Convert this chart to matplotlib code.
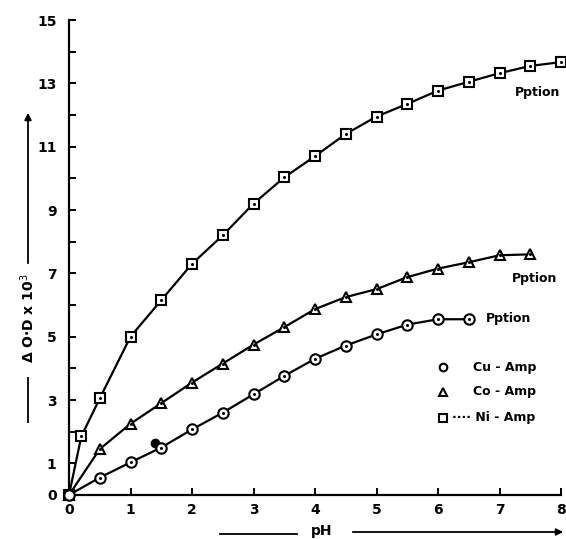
import matplotlib
matplotlib.use("Agg")
import matplotlib.pyplot as plt

# pH values and Delta O.D x 10^3
ph_ni = [0, 0.2, 0.5, 1.0, 1.5, 2.0, 2.5, 3.0, 3.5, 4.0, 4.5, 5.0, 5.5, 6.0, 6.5, 7.0, 7.5, 8.0]
od_ni = [0, 1.85, 3.05, 5.0, 6.15, 7.3, 8.2, 9.2, 10.03, 10.7, 11.4, 11.95, 12.35, 12.77, 13.05, 13.32, 13.55, 13.67]

ph_co = [0, 0.5, 1.0, 1.5, 2.0, 2.5, 3.0, 3.5, 4.0, 4.5, 5.0, 5.5, 6.0, 6.5, 7.0, 7.5]
od_co = [0, 1.45, 2.25, 2.9, 3.55, 4.15, 4.75, 5.3, 5.87, 6.25, 6.5, 6.88, 7.15, 7.35, 7.57, 7.6]

ph_cu = [0, 0.5, 1.0, 1.5, 2.0, 2.5, 3.0, 3.5, 4.0, 4.5, 5.0, 5.5, 6.0, 6.5]
od_cu = [0, 0.55, 1.03, 1.5, 2.07, 2.6, 3.18, 3.76, 4.3, 4.72, 5.07, 5.38, 5.55, 5.55]

# stray filled point near the Cu curve
ph_dot = [1.4]
od_dot = [1.65]

x_ticks = [0, 1, 2, 3, 4, 5, 6, 7, 8]
y_ticks = list(range(16))
y_labels = ["0", "1", "", "3", "", "5", "", "7", "", "9", "", "11", "", "13", "", "15"]

W, H = 566, 539
fig = plt.figure(figsize=(W / 100, H / 100), dpi=100)
ax = fig.add_axes([69 / W, 1 - 495 / H, (561 - 69) / W, (495 - 20) / H])

FONT = dict(family="DejaVu Sans", weight="bold")

for xs, ys, mk in [(ph_ni, od_ni, "s"), (ph_co, od_co, "^"), (ph_cu, od_cu, "o")]:
    ax.plot(xs, ys, color="black", lw=1.6, marker=mk, ms=7.5, mfc="white", mec="black", mew=1.5, clip_on=False, zorder=3)
    ax.plot(xs[1:], ys[1:], ls="none", marker="o", ms=1.2, color="black", clip_on=False, zorder=4)

ax.plot(ph_dot, od_dot, ls="none", marker="o", ms=6, color="black", zorder=2)

ax.set_xlim(0, 8)
ax.set_ylim(0, 15)
for s in ["top", "right"]:
    ax.spines[s].set_visible(False)
for s in ["left", "bottom"]:
    ax.spines[s].set_linewidth(1.6)

ax.set_xticks(x_ticks)
ax.set_xticklabels([str(v) for v in x_ticks], fontsize=10, **FONT)
ax.set_yticks(y_ticks)
ax.set_yticklabels(y_labels, fontsize=10, **FONT)
ax.tick_params(axis="both", direction="in", length=5, width=1.4)
ax.tick_params(axis="x", pad=6)
ax.tick_params(axis="y", pad=9)

# precipitation notes
ax.text(7.25, 12.7, "Pption", fontsize=9, va="center", ha="left", **FONT)
ax.text(7.2, 6.85, "Pption", fontsize=9, va="center", ha="left", **FONT)
ax.text(6.78, 5.56, "Pption", fontsize=9, va="center", ha="left", **FONT)

# legend drawn by hand
def fx(px):
    return px / W

def fy(py):
    return 1 - py / H

leg = [("o", 367, "Cu - Amp"), ("^", 392, "Co - Amp"), ("s", 418, "\u00b7\u00b7\u00b7\u00b7 Ni - Amp")]
for mk, py, lab in leg:
    fig.add_artist(plt.Line2D([fx(443)], [fy(py)], marker=mk, ms=5.5, mfc="white", mec="black", mew=1.5, ls="none"))
    x0 = 473 if mk != "s" else 452
    fig.text(fx(x0), fy(py), lab, fontsize=9, va="center", ha="left", **FONT)

# y axis label with arrow lines
fig.text(fx(28), fy(318), "\u0394 O\u00b7D x 10$^3$", rotation=90, fontsize=10, ha="center", va="center", **FONT)
fig.add_artist(plt.Line2D([fx(28), fx(28)], [fy(378), fy(422)], color="black", lw=1.3))
ax.annotate("", xy=(fx(28), fy(110)), xytext=(fx(28), fy(266)), xycoords="figure fraction",
            textcoords="figure fraction", arrowprops=dict(arrowstyle="-|>", color="black", lw=1.3, mutation_scale=10))

# x axis label with arrow lines
fig.text(fx(322), fy(531), "pH", fontsize=10, ha="center", va="center", **FONT)
fig.add_artist(plt.Line2D([fx(220), fx(297)], [fy(534), fy(534)], color="black", lw=1.3))
ax.annotate("", xy=(fx(566), fy(532)), xytext=(fx(350), fy(532)), xycoords="figure fraction",
            textcoords="figure fraction", arrowprops=dict(arrowstyle="-|>", color="black", lw=1.3, mutation_scale=10))

fig.savefig("out.png", dpi=100)
